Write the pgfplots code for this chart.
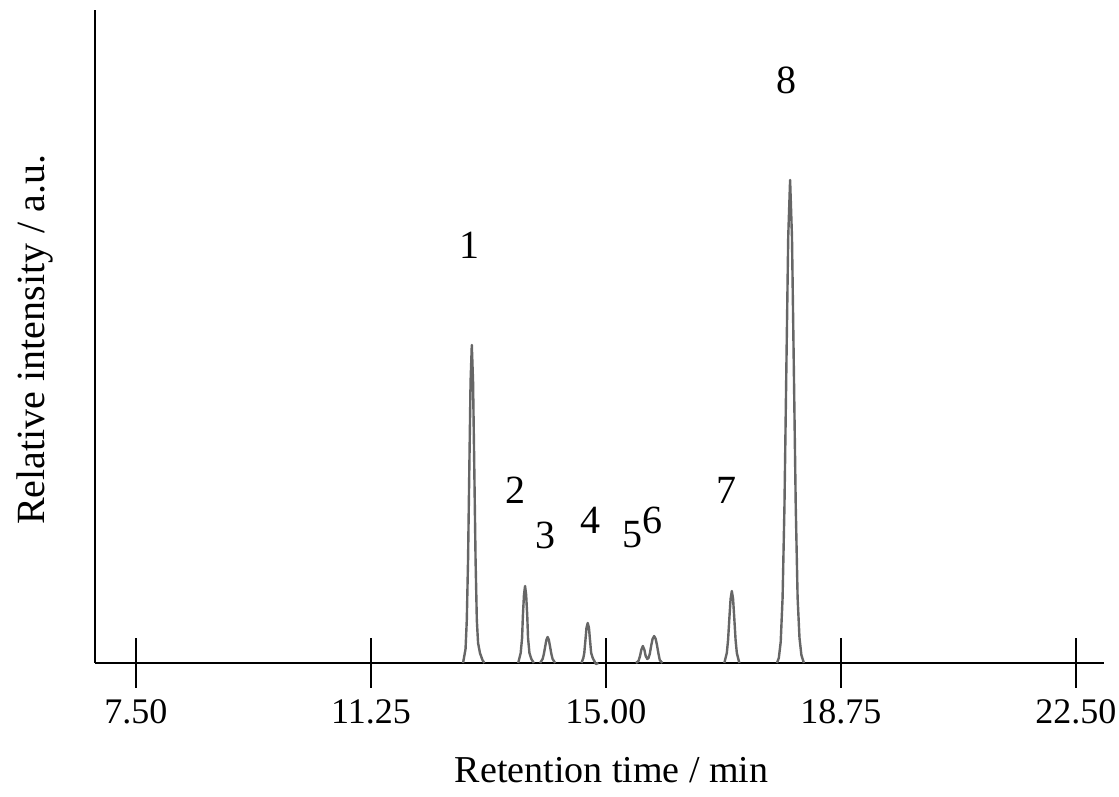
\documentclass[border=0pt]{standalone}
\usepackage{pgfplots}
\pgfplotsset{compat=1.18}
\usepackage{fontspec}
\setmainfont{Liberation Serif}
\begin{document}
\begin{tikzpicture}
\begin{axis}[
  scale only axis,
  width=504.5pt, height=326.5pt,
  xmin=6.846, xmax=22.95, ymin=0, ymax=653,
  axis x line=bottom, axis y line=left,
  axis line style={-, line width=1pt, black},
  clip=false,
  xtick={7.5,11.25,15,18.75,22.5},
  xticklabels={7.50,11.25,15.00,18.75,22.50},
  ytick=\empty,
  tick align=center,
  major tick length=25pt,
  xtick style={line width=0.9pt, black},
  xticklabel style={font=\fontsize{18}{20}\selectfont, anchor=center, yshift=-12pt},
  xlabel={Retention time / min},
  xlabel style={font=\fontsize{19}{22}\selectfont, at={(rel axis cs:0.512,0)}, anchor=center, yshift=-53.5pt},
  ylabel={Relative intensity / a.u.},
  ylabel style={font=\fontsize{20}{24}\selectfont, at={(rel axis cs:0,0.495)}, anchor=center, yshift=30pt},
  peak/.style={color=black!60, line width=1.2pt, line join=round, no marks, solid},
]
\coordinate (sw) at (rel axis cs:0,0);
\coordinate (ne) at (rel axis cs:1,1);
% peak 1
\addplot[peak] coordinates {(12.72,0) (12.76,14) (12.78,43) (12.80,103) (12.82,193) (12.84,281) (12.86,318) (12.88,281) (12.90,193) (12.92,103) (12.94,43) (12.96,20) (12.99,10) (13.03,3) (13.06,0)};
% peak 2
\addplot[peak] coordinates {(13.60,0) (13.64,10) (13.6625,25) (13.675,47) (13.6925,68) (13.71,77) (13.7275,68) (13.745,47) (13.7575,25) (13.78,10) (13.81,4) (13.85,0)};
% peak 3
\addplot[peak] coordinates {(13.95,0) (13.99,4) (14.01,9) (14.03,16) (14.05,23) (14.07,26) (14.09,23) (14.11,16) (14.13,9) (14.15,4) (14.19,0)};
% peak 4
\addplot[peak] coordinates {(14.61,0) (14.64,5) (14.655,10) (14.675,24) (14.69,35) (14.71,40) (14.73,35) (14.745,24) (14.765,10) (14.79,5) (14.84,-1) (14.88,0)};
% peaks 5 and 6
\addplot[peak] coordinates {(15.48,0) (15.52,2) (15.545,7) (15.565,13) (15.59,17) (15.615,13) (15.635,7) (15.66,4) (15.68,5) (15.70,9) (15.725,18) (15.745,24) (15.77,27) (15.795,24) (15.815,18) (15.84,9) (15.86,3) (15.90,0)};
% peak 7
\addplot[peak] coordinates {(16.89,0) (16.93,10) (16.95,23) (16.97,44) (16.99,64) (17.01,72) (17.03,64) (17.05,44) (17.07,23) (17.09,10) (17.13,0)};
% peak 8
\addplot[peak] coordinates {(17.73,0) (17.76,5) (17.79,21) (17.82,65) (17.85,157) (17.88,293) (17.91,426) (17.94,483) (17.97,426) (18.00,293) (18.03,157) (18.06,65) (18.09,25) (18.12,8) (18.16,0)};
% peak labels
\begin{scope}[every node/.style={font=\fontsize{20}{24}\selectfont, anchor=center, inner sep=0pt}]
\node at (axis cs:12.83,418) {1};
\node at (axis cs:13.55,173) {2};
\node at (axis cs:14.03,128) {3};
\node at (axis cs:14.76,143) {4};
\node at (axis cs:15.43,128) {5};
\node at (axis cs:15.74,143) {6};
\node at (axis cs:16.93,173) {7};
\node at (axis cs:17.89,583) {8};
\end{scope}
\end{axis}
\pgfresetboundingbox
\path ([shift={(-47.5pt,-67pt)}]sw) rectangle ([shift={(7.5pt,5pt)}]ne);
\end{tikzpicture}
\end{document}
